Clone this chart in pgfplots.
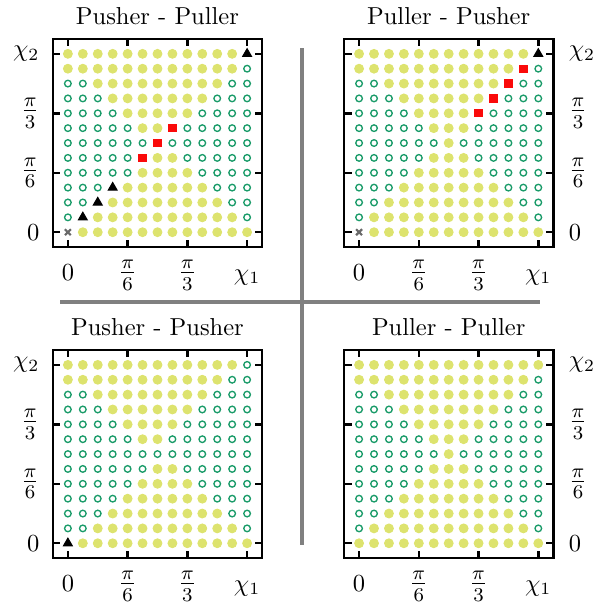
\documentclass[border=0pt]{standalone}
\usepackage{pgfplots}
\usepackage{pgfplotstable}
\pgfplotsset{compat=1.18}
\definecolor{fillc}{RGB}{221,227,110}
\definecolor{openc}{RGB}{26,155,105}
\definecolor{sqc}{RGB}{250,10,10}
\definecolor{crossc}{RGB}{105,105,105}
\definecolor{sepc}{RGB}{128,128,128}

% columns: chi1 index (x pi/24), chi2 index (x pi/24), class (0 filled,1 open,2 square,3 triangle,4 cross)
\pgfplotstableread[header=false,row sep=\\]{
0 12 0\\ 1 12 0\\ 2 12 0\\ 3 12 0\\ 4 12 0\\ 5 12 0\\ 6 12 0\\ 7 12 0\\ 8 12 0\\ 9 12 0\\ 10 12 0\\ 11 12 0\\ 12 12 3\\
0 11 0\\ 1 11 0\\ 2 11 0\\ 3 11 0\\ 4 11 0\\ 5 11 0\\ 6 11 0\\ 7 11 0\\ 8 11 0\\ 9 11 0\\ 10 11 0\\ 11 11 0\\ 12 11 1\\
0 10 1\\ 1 10 1\\ 2 10 0\\ 3 10 0\\ 4 10 0\\ 5 10 0\\ 6 10 0\\ 7 10 0\\ 8 10 0\\ 9 10 0\\ 10 10 0\\ 11 10 1\\ 12 10 1\\
0 9 1\\ 1 9 1\\ 2 9 1\\ 3 9 0\\ 4 9 0\\ 5 9 0\\ 6 9 0\\ 7 9 0\\ 8 9 0\\ 9 9 0\\ 10 9 1\\ 11 9 1\\ 12 9 1\\
0 8 1\\ 1 8 1\\ 2 8 1\\ 3 8 1\\ 4 8 0\\ 5 8 0\\ 6 8 0\\ 7 8 0\\ 8 8 0\\ 9 8 1\\ 10 8 1\\ 11 8 1\\ 12 8 1\\
0 7 1\\ 1 7 1\\ 2 7 1\\ 3 7 1\\ 4 7 1\\ 5 7 0\\ 6 7 0\\ 7 7 2\\ 8 7 1\\ 9 7 1\\ 10 7 1\\ 11 7 1\\ 12 7 1\\
0 6 1\\ 1 6 1\\ 2 6 1\\ 3 6 1\\ 4 6 1\\ 5 6 1\\ 6 6 2\\ 7 6 1\\ 8 6 1\\ 9 6 1\\ 10 6 1\\ 11 6 1\\ 12 6 1\\
0 5 1\\ 1 5 1\\ 2 5 1\\ 3 5 1\\ 4 5 1\\ 5 5 2\\ 6 5 0\\ 7 5 0\\ 8 5 1\\ 9 5 1\\ 10 5 1\\ 11 5 1\\ 12 5 1\\
0 4 1\\ 1 4 1\\ 2 4 1\\ 3 4 1\\ 4 4 1\\ 5 4 0\\ 6 4 0\\ 7 4 0\\ 8 4 0\\ 9 4 1\\ 10 4 1\\ 11 4 1\\ 12 4 1\\
0 3 1\\ 1 3 1\\ 2 3 1\\ 3 3 3\\ 4 3 0\\ 5 3 0\\ 6 3 0\\ 7 3 0\\ 8 3 0\\ 9 3 0\\ 10 3 1\\ 11 3 1\\ 12 3 1\\
0 2 1\\ 1 2 1\\ 2 2 3\\ 3 2 0\\ 4 2 0\\ 5 2 0\\ 6 2 0\\ 7 2 0\\ 8 2 0\\ 9 2 0\\ 10 2 0\\ 11 2 1\\ 12 2 1\\
0 1 1\\ 1 1 3\\ 2 1 0\\ 3 1 0\\ 4 1 0\\ 5 1 0\\ 6 1 0\\ 7 1 0\\ 8 1 0\\ 9 1 0\\ 10 1 0\\ 11 1 0\\ 12 1 1\\
0 0 4\\ 1 0 0\\ 2 0 0\\ 3 0 0\\ 4 0 0\\ 5 0 0\\ 6 0 0\\ 7 0 0\\ 8 0 0\\ 9 0 0\\ 10 0 0\\ 11 0 0\\ 12 0 0\\
}\tabTL

\pgfplotstableread[header=false,row sep=\\]{
0 12 0\\ 1 12 0\\ 2 12 0\\ 3 12 0\\ 4 12 0\\ 5 12 0\\ 6 12 0\\ 7 12 0\\ 8 12 0\\ 9 12 0\\ 10 12 0\\ 11 12 0\\ 12 12 3\\
0 11 0\\ 1 11 0\\ 2 11 0\\ 3 11 0\\ 4 11 0\\ 5 11 0\\ 6 11 0\\ 7 11 0\\ 8 11 0\\ 9 11 0\\ 10 11 0\\ 11 11 2\\ 12 11 1\\
0 10 1\\ 1 10 1\\ 2 10 0\\ 3 10 0\\ 4 10 0\\ 5 10 0\\ 6 10 0\\ 7 10 0\\ 8 10 0\\ 9 10 0\\ 10 10 2\\ 11 10 1\\ 12 10 1\\
0 9 1\\ 1 9 1\\ 2 9 1\\ 3 9 0\\ 4 9 0\\ 5 9 0\\ 6 9 0\\ 7 9 0\\ 8 9 0\\ 9 9 2\\ 10 9 1\\ 11 9 1\\ 12 9 1\\
0 8 1\\ 1 8 1\\ 2 8 1\\ 3 8 1\\ 4 8 0\\ 5 8 0\\ 6 8 0\\ 7 8 0\\ 8 8 2\\ 9 8 1\\ 10 8 1\\ 11 8 1\\ 12 8 1\\
0 7 1\\ 1 7 1\\ 2 7 1\\ 3 7 1\\ 4 7 1\\ 5 7 0\\ 6 7 0\\ 7 7 0\\ 8 7 1\\ 9 7 1\\ 10 7 1\\ 11 7 1\\ 12 7 1\\
0 6 1\\ 1 6 1\\ 2 6 1\\ 3 6 1\\ 4 6 1\\ 5 6 1\\ 6 6 0\\ 7 6 1\\ 8 6 1\\ 9 6 1\\ 10 6 1\\ 11 6 1\\ 12 6 1\\
0 5 1\\ 1 5 1\\ 2 5 1\\ 3 5 1\\ 4 5 1\\ 5 5 0\\ 6 5 0\\ 7 5 0\\ 8 5 1\\ 9 5 1\\ 10 5 1\\ 11 5 1\\ 12 5 1\\
0 4 1\\ 1 4 1\\ 2 4 1\\ 3 4 1\\ 4 4 0\\ 5 4 0\\ 6 4 0\\ 7 4 0\\ 8 4 0\\ 9 4 1\\ 10 4 1\\ 11 4 1\\ 12 4 1\\
0 3 1\\ 1 3 1\\ 2 3 1\\ 3 3 0\\ 4 3 0\\ 5 3 0\\ 6 3 0\\ 7 3 0\\ 8 3 0\\ 9 3 0\\ 10 3 1\\ 11 3 1\\ 12 3 1\\
0 2 1\\ 1 2 1\\ 2 2 0\\ 3 2 0\\ 4 2 0\\ 5 2 0\\ 6 2 0\\ 7 2 0\\ 8 2 0\\ 9 2 0\\ 10 2 0\\ 11 2 1\\ 12 2 1\\
0 1 1\\ 1 1 0\\ 2 1 0\\ 3 1 0\\ 4 1 0\\ 5 1 0\\ 6 1 0\\ 7 1 0\\ 8 1 0\\ 9 1 0\\ 10 1 0\\ 11 1 0\\ 12 1 1\\
0 0 4\\ 1 0 0\\ 2 0 0\\ 3 0 0\\ 4 0 0\\ 5 0 0\\ 6 0 0\\ 7 0 0\\ 8 0 0\\ 9 0 0\\ 10 0 0\\ 11 0 0\\ 12 0 0\\
}\tabTR

\pgfplotstableread[header=false,row sep=\\]{
0 12 0\\ 1 12 0\\ 2 12 0\\ 3 12 0\\ 4 12 0\\ 5 12 0\\ 6 12 0\\ 7 12 0\\ 8 12 0\\ 9 12 0\\ 10 12 0\\ 11 12 0\\ 12 12 1\\
0 11 0\\ 1 11 0\\ 2 11 0\\ 3 11 0\\ 4 11 0\\ 5 11 0\\ 6 11 0\\ 7 11 0\\ 8 11 0\\ 9 11 0\\ 10 11 0\\ 11 11 1\\ 12 11 1\\
0 10 1\\ 1 10 1\\ 2 10 0\\ 3 10 0\\ 4 10 0\\ 5 10 0\\ 6 10 0\\ 7 10 0\\ 8 10 0\\ 9 10 0\\ 10 10 1\\ 11 10 1\\ 12 10 1\\
0 9 1\\ 1 9 1\\ 2 9 1\\ 3 9 0\\ 4 9 0\\ 5 9 0\\ 6 9 0\\ 7 9 0\\ 8 9 0\\ 9 9 1\\ 10 9 1\\ 11 9 1\\ 12 9 1\\
0 8 1\\ 1 8 1\\ 2 8 1\\ 3 8 1\\ 4 8 0\\ 5 8 0\\ 6 8 0\\ 7 8 0\\ 8 8 1\\ 9 8 1\\ 10 8 1\\ 11 8 1\\ 12 8 1\\
0 7 1\\ 1 7 1\\ 2 7 1\\ 3 7 1\\ 4 7 1\\ 5 7 0\\ 6 7 0\\ 7 7 1\\ 8 7 1\\ 9 7 1\\ 10 7 1\\ 11 7 1\\ 12 7 1\\
0 6 1\\ 1 6 1\\ 2 6 1\\ 3 6 1\\ 4 6 1\\ 5 6 1\\ 6 6 1\\ 7 6 1\\ 8 6 1\\ 9 6 1\\ 10 6 1\\ 11 6 1\\ 12 6 1\\
0 5 1\\ 1 5 1\\ 2 5 1\\ 3 5 1\\ 4 5 1\\ 5 5 1\\ 6 5 0\\ 7 5 0\\ 8 5 1\\ 9 5 1\\ 10 5 1\\ 11 5 1\\ 12 5 1\\
0 4 1\\ 1 4 1\\ 2 4 1\\ 3 4 1\\ 4 4 1\\ 5 4 0\\ 6 4 0\\ 7 4 0\\ 8 4 0\\ 9 4 1\\ 10 4 1\\ 11 4 1\\ 12 4 1\\
0 3 1\\ 1 3 1\\ 2 3 1\\ 3 3 1\\ 4 3 0\\ 5 3 0\\ 6 3 0\\ 7 3 0\\ 8 3 0\\ 9 3 0\\ 10 3 1\\ 11 3 1\\ 12 3 1\\
0 2 1\\ 1 2 1\\ 2 2 1\\ 3 2 0\\ 4 2 0\\ 5 2 0\\ 6 2 0\\ 7 2 0\\ 8 2 0\\ 9 2 0\\ 10 2 0\\ 11 2 1\\ 12 2 1\\
0 1 1\\ 1 1 1\\ 2 1 0\\ 3 1 0\\ 4 1 0\\ 5 1 0\\ 6 1 0\\ 7 1 0\\ 8 1 0\\ 9 1 0\\ 10 1 0\\ 11 1 0\\ 12 1 1\\
0 0 3\\ 1 0 0\\ 2 0 0\\ 3 0 0\\ 4 0 0\\ 5 0 0\\ 6 0 0\\ 7 0 0\\ 8 0 0\\ 9 0 0\\ 10 0 0\\ 11 0 0\\ 12 0 0\\
}\tabBL

\pgfplotstableread[header=false,row sep=\\]{
0 12 0\\ 1 12 0\\ 2 12 0\\ 3 12 0\\ 4 12 0\\ 5 12 0\\ 6 12 0\\ 7 12 0\\ 8 12 0\\ 9 12 0\\ 10 12 0\\ 11 12 0\\ 12 12 0\\
0 11 0\\ 1 11 0\\ 2 11 0\\ 3 11 0\\ 4 11 0\\ 5 11 0\\ 6 11 0\\ 7 11 0\\ 8 11 0\\ 9 11 0\\ 10 11 0\\ 11 11 0\\ 12 11 1\\
0 10 1\\ 1 10 1\\ 2 10 0\\ 3 10 0\\ 4 10 0\\ 5 10 0\\ 6 10 0\\ 7 10 0\\ 8 10 0\\ 9 10 0\\ 10 10 0\\ 11 10 1\\ 12 10 1\\
0 9 1\\ 1 9 1\\ 2 9 1\\ 3 9 0\\ 4 9 0\\ 5 9 0\\ 6 9 0\\ 7 9 0\\ 8 9 0\\ 9 9 0\\ 10 9 1\\ 11 9 1\\ 12 9 1\\
0 8 1\\ 1 8 1\\ 2 8 1\\ 3 8 1\\ 4 8 0\\ 5 8 0\\ 6 8 0\\ 7 8 0\\ 8 8 0\\ 9 8 1\\ 10 8 1\\ 11 8 1\\ 12 8 1\\
0 7 1\\ 1 7 1\\ 2 7 1\\ 3 7 1\\ 4 7 1\\ 5 7 0\\ 6 7 0\\ 7 7 0\\ 8 7 1\\ 9 7 1\\ 10 7 1\\ 11 7 1\\ 12 7 1\\
0 6 1\\ 1 6 1\\ 2 6 1\\ 3 6 1\\ 4 6 1\\ 5 6 1\\ 6 6 0\\ 7 6 1\\ 8 6 1\\ 9 6 1\\ 10 6 1\\ 11 6 1\\ 12 6 1\\
0 5 1\\ 1 5 1\\ 2 5 1\\ 3 5 1\\ 4 5 1\\ 5 5 0\\ 6 5 0\\ 7 5 0\\ 8 5 1\\ 9 5 1\\ 10 5 1\\ 11 5 1\\ 12 5 1\\
0 4 1\\ 1 4 1\\ 2 4 1\\ 3 4 1\\ 4 4 0\\ 5 4 0\\ 6 4 0\\ 7 4 0\\ 8 4 0\\ 9 4 1\\ 10 4 1\\ 11 4 1\\ 12 4 1\\
0 3 1\\ 1 3 1\\ 2 3 1\\ 3 3 0\\ 4 3 0\\ 5 3 0\\ 6 3 0\\ 7 3 0\\ 8 3 0\\ 9 3 0\\ 10 3 1\\ 11 3 1\\ 12 3 1\\
0 2 1\\ 1 2 1\\ 2 2 0\\ 3 2 0\\ 4 2 0\\ 5 2 0\\ 6 2 0\\ 7 2 0\\ 8 2 0\\ 9 2 0\\ 10 2 0\\ 11 2 1\\ 12 2 1\\
0 1 1\\ 1 1 0\\ 2 1 0\\ 3 1 0\\ 4 1 0\\ 5 1 0\\ 6 1 0\\ 7 1 0\\ 8 1 0\\ 9 1 0\\ 10 1 0\\ 11 1 0\\ 12 1 1\\
0 0 0\\ 1 0 0\\ 2 0 0\\ 3 0 0\\ 4 0 0\\ 5 0 0\\ 6 0 0\\ 7 0 0\\ 8 0 0\\ 9 0 0\\ 10 0 0\\ 11 0 0\\ 12 0 0\\
}\tabBR

\pgfplotsset{
  pp/.style={
    scale only axis, width=85.3pt, height=84.9pt,
    xmin=-1, xmax=13, ymin=-1, ymax=13,
    axis line style={line width=1.1pt},
    tick align=inside, xtick pos=both, ytick pos=both,
    major tick length=3pt,
    tick style={line width=1pt, black},
    xtick={0,4,8,12}, ytick={0,4,8,12},
    xticklabels={$0$,{\fontsize{12}{14}\selectfont$\frac{\pi}{6}$},{\fontsize{12}{14}\selectfont$\frac{\pi}{3}$},$\chi_1$},
    yticklabels={$0$,{\fontsize{12}{14}\selectfont$\frac{\pi}{6}$},{\fontsize{12}{14}\selectfont$\frac{\pi}{3}$},$\chi_2$},
    xticklabel style={anchor=base, yshift=-13.5pt},
    clip=false,
    scatter/classes={
      0={mark=*, fillc, mark size=1.8pt},
      1={mark=o, openc, mark size=1.35pt, line width=0.55pt},
      2={mark=square*, sqc, mark size=1.5pt},
      3={mark=triangle*, black, mark size=2.1pt},
      4={mark=x, crossc, mark size=1.7pt, line width=0.9pt}
    },
  },
  lft/.style={yticklabel pos=left, yticklabel style={anchor=east, xshift=-2pt}},
  rgt/.style={yticklabel pos=right, yticklabel style={anchor=west, xshift=2.8pt}},
  pts/.style={scatter, only marks, scatter src=explicit symbolic},
}

\begin{document}
\begin{tikzpicture}
\useasboundingbox (0pt,0pt) rectangle (243.2pt,-245.6pt);
\draw[sepc, line width=1.7pt] (123.2pt,-19.6pt) -- (123.2pt,-222.4pt);
\draw[sepc, line width=1.7pt] (24.5pt,-123.2pt) -- (220.3pt,-123.2pt);

\begin{axis}[pp, lft, at={(21.6pt,-15.9pt)}, anchor=north west]
\addplot[pts] table[x index=0, y index=1, meta index=2] {\tabTL};
\node[anchor=base, inner sep=0pt] at ([yshift=6.1pt]rel axis cs:0.5,1) {Pusher - Puller};
\end{axis}

\begin{axis}[pp, rgt, at={(140.4pt,-15.9pt)}, anchor=north west]
\addplot[pts] table[x index=0, y index=1, meta index=2] {\tabTR};
\node[anchor=base, inner sep=0pt] at ([yshift=6.1pt]rel axis cs:0.5,1) {Puller - Pusher};
\end{axis}

\begin{axis}[pp, lft, at={(21.6pt,-142.8pt)}, anchor=north west]
\addplot[pts] table[x index=0, y index=1, meta index=2] {\tabBL};
\node[anchor=base, inner sep=0pt] at ([yshift=6.1pt]rel axis cs:0.5,1) {Pusher - Pusher};
\end{axis}

\begin{axis}[pp, rgt, at={(140.4pt,-142.8pt)}, anchor=north west]
\addplot[pts] table[x index=0, y index=1, meta index=2] {\tabBR};
\node[anchor=base, inner sep=0pt] at ([yshift=6.1pt]rel axis cs:0.5,1) {Puller - Puller};
\end{axis}
\end{tikzpicture}
\end{document}
